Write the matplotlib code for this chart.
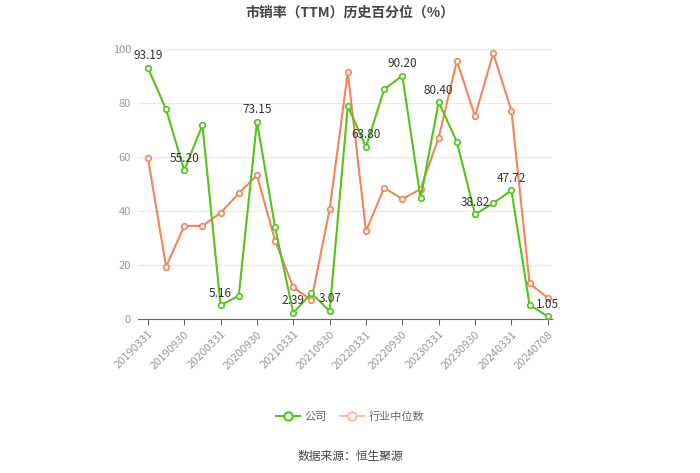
import matplotlib
matplotlib.use("Agg")
import matplotlib.pyplot as plt
from matplotlib.lines import Line2D

plt.rcParams['font.family'] = ['Noto Sans CJK SC', 'DejaVu Sans']

dates = ["20190331", "20190630", "20190930", "20191231", "20200331", "20200630",
         "20200930", "20201231", "20210331", "20210630", "20210930", "20211231",
         "20220331", "20220630", "20220930", "20221231", "20230331", "20230630",
         "20230930", "20231231", "20240331", "20240630", "20240708"]
company = [93.19, 77.7, 55.20, 71.9, 5.16, 8.7, 73.15, 34.0, 2.39, 9.6, 3.07, 78.9,
           63.80, 85.1, 90.20, 44.8, 80.40, 65.7, 38.82, 43.0, 47.72, 5.3, 1.05]
industry = [59.8, 19.5, 34.5, 34.6, 39.4, 46.6, 53.3, 29.1, 11.8, 7.1, 40.8, 91.4,
            32.6, 48.7, 44.5, 48.2, 67.3, 95.7, 75.1, 98.5, 77.3, 13.3, 7.9]
label_idx = [0, 2, 4, 6, 8, 10, 12, 14, 16, 18, 20, 22]

green = "#52c41a"
orange = "#f4845a"

fig = plt.figure(figsize=(7, 4.73), dpi=100)
ax = fig.add_axes([0.197, 0.325, 0.592, 0.571])

x = list(range(len(dates)))
ax.plot(x, industry, color=orange, lw=1.5, marker='o', ms=4,
        markerfacecolor='white', markeredgecolor=orange, markeredgewidth=1.2, zorder=3)
ax.plot(x, company, color=green, lw=1.5, marker='o', ms=4,
        markerfacecolor='white', markeredgecolor=green, markeredgewidth=1.2, zorder=4)

for i in label_idx:
    ax.annotate(f"{company[i]:.2f}", (i, company[i]), xytext=(0, 4),
                textcoords='offset points', ha='center', va='bottom',
                fontsize=8.5, color='#333333', zorder=5)

ax.set_xlim(-0.55, 22.25)
ax.set_ylim(0, 100)
ax.set_yticks([0, 20, 40, 60, 80, 100])
ax.set_xticks(x[::2])
ax.set_xticklabels(dates[::2], rotation=45, ha='right', rotation_mode='anchor')
ax.tick_params(axis='x', colors='#999999', labelsize=8, length=4, width=0.8,
               direction='out', pad=3)
ax.tick_params(axis='x', color='#666666')
ax.tick_params(axis='y', colors='#999999', labelsize=8, length=0, pad=5)
ax.grid(axis='y', color='#e8e8e8', lw=0.8)
ax.set_axisbelow(True)
for s in ['top', 'right', 'left']:
    ax.spines[s].set_visible(False)
ax.spines['bottom'].set_color('#666666')
ax.spines['bottom'].set_linewidth(0.8)

fig.text(0.5, 0.973, "市销率（TTM）历史百分位（%）", ha='center', va='center',
         fontsize=10, fontweight='bold', color='#444444')

handles = [
    Line2D([0], [0], color=green, lw=1.5, marker='o', ms=6,
           markerfacecolor='white', markeredgecolor=green, markeredgewidth=1.5),
    Line2D([0], [0], color='#f8bca4', lw=1.5, marker='o', ms=6,
           markerfacecolor='white', markeredgecolor='#f8bca4', markeredgewidth=1.5),
]
leg = fig.legend(handles, ["公司", "行业中位数"], loc='center', bbox_to_anchor=(0.5, 0.12),
                 ncol=2, frameon=False, fontsize=8, handlelength=2.2, columnspacing=1.2,
                 handletextpad=0.4)
for t in leg.get_texts():
    t.set_color('#666666')

fig.text(0.5, 0.034, "数据来源：恒生聚源", ha='center', va='center', fontsize=8.5,
         color='#444444')

fig.savefig("out.png", dpi=100)
